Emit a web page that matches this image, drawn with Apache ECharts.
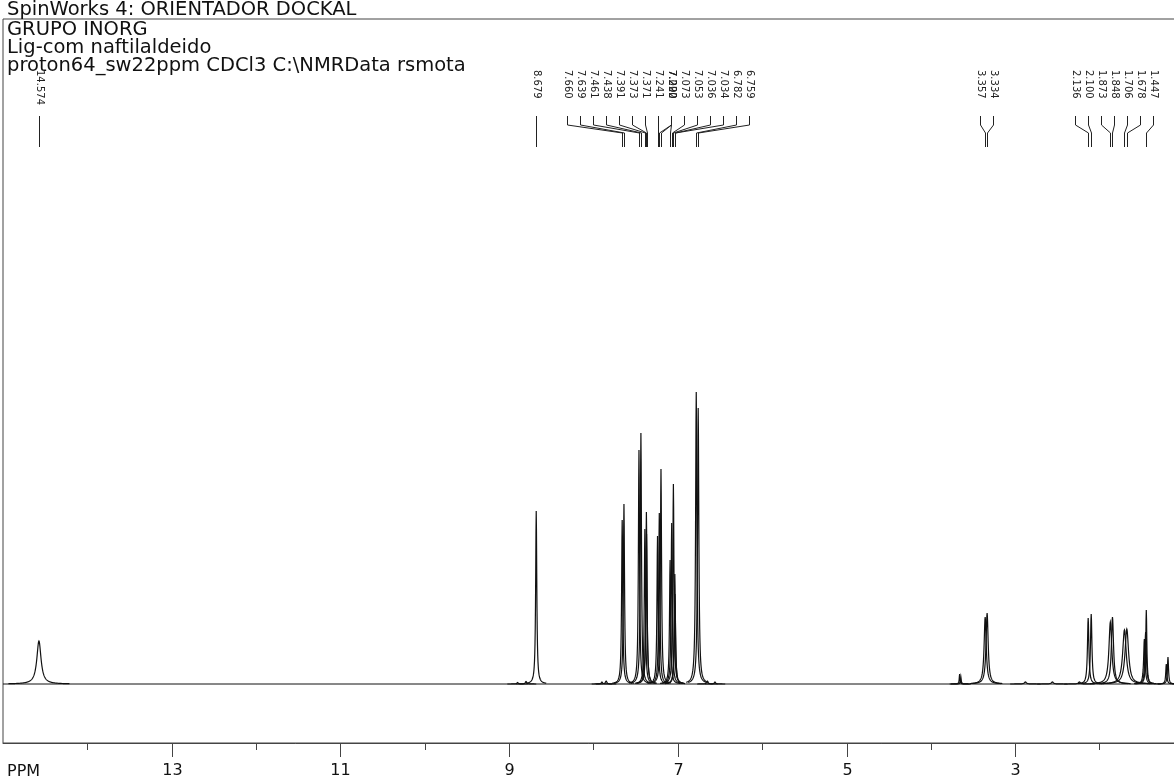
<!DOCTYPE html>
<html>
<head>
<meta charset="utf-8">
<title>SpinWorks 4: ORIENTADOR DOCKAL</title>
<script src="https://cdn.jsdelivr.net/npm/echarts@6/dist/echarts.min.js"></script>
<style>
  html, body { margin: 0; padding: 0; background: #fff; overflow: hidden; }
  #chart { width: 1174px; height: 780px; }
</style>
</head>
<body>
<div id="chart"></div>
<script>
// header lines printed by SpinWorks
const titleLines = [
  "SpinWorks 4: ORIENTADOR DOCKAL",
  "GRUPO INORG",
  "Lig-com naftilaldeido",
  "proton64_sw22ppm CDCl3 C:\\NMRData rsmota"
];

// peaks: shift (ppm), height above baseline, line width (ppm)
const peakShifts = [14.574, 8.900, 8.800, 8.679, 7.900, 7.850, 7.660, 7.639, 7.461, 7.438,
  7.391, 7.373, 7.371, 7.241, 7.220, 7.200, 7.092, 7.073, 7.053, 7.036, 7.034,
  6.782, 6.759, 6.650, 6.560, 3.660, 3.645, 3.357, 3.334, 2.880, 2.560, 2.240,
  2.136, 2.100, 1.873, 1.848, 1.706, 1.678, 1.470, 1.455, 1.447, 1.210, 1.190];
const peakHeights = [43, 1.5, 2.5, 173, 2, 3, 164, 180, 234, 251,
  155, 172, 150, 148, 171, 215, 124, 161, 200, 110, 90,
  292, 276, 3, 2, 10, 7, 67, 71, 2, 2, 2,
  66, 70, 62, 67, 54, 55, 45, 52, 74, 20, 27];
const peakWidths = [0.06, 0.02, 0.02, 0.016, 0.02, 0.02, 0.016, 0.016, 0.016, 0.016,
  0.016, 0.016, 0.016, 0.016, 0.016, 0.016, 0.016, 0.016, 0.016, 0.016, 0.016,
  0.018, 0.018, 0.02, 0.02, 0.01, 0.01, 0.03, 0.03, 0.03, 0.03, 0.03,
  0.02, 0.02, 0.04, 0.03, 0.05, 0.05, 0.02, 0.02, 0.015, 0.015, 0.015];

// picked peaks printed above the spectrum (descending ppm)
const labelShifts = [14.574, 8.679, 7.660, 7.639, 7.461, 7.438, 7.391, 7.373, 7.371,
  7.241, 7.220, 7.200, 7.092, 7.073, 7.053, 7.036, 7.034, 6.782, 6.759,
  3.357, 3.334, 2.136, 2.100, 1.873, 1.848, 1.706, 1.678, 1.447];
// labels that SpinWorks printed on top of the previous one
const labelStacked = [0, 0, 0, 0, 0, 0, 0, 0, 0,
  0, 0, 1, 1, 0, 0, 0, 0, 0, 0,
  0, 0, 0, 0, 0, 0, 0, 0, 0];

const ppmRange = [1, 15];
const intensityRange = [-59, 665];
const majorTicks = [13, 11, 9, 7, 5, 3];
const minorTicks = [14, 12, 10, 8, 6, 4, 2];

const FONT = "DejaVu Sans";
const GAP = 13;

function layoutLabels(api) {
  const ideal = labelShifts.map(s => api.coord([s, 0])[0]);
  const slots = [];
  ideal.forEach((x, i) => {
    if (labelStacked[i] && slots.length) {
      const s = slots[slots.length - 1];
      s.members.push(i);
      s.sum += x;
    } else {
      slots.push({ members: [i], sum: x });
    }
  });
  slots.forEach(s => { s.ideal = s.sum / s.members.length; });
  const clusters = slots.map(s => ({ slots: [s], sum: s.ideal }));
  const place = c => { c.start = c.sum / c.slots.length - (c.slots.length - 1) * GAP / 2; };
  clusters.forEach(place);
  let merged = true;
  while (merged) {
    merged = false;
    for (let i = 1; i < clusters.length; i++) {
      const a = clusters[i - 1], b = clusters[i];
      if (b.start < a.start + a.slots.length * GAP) {
        a.slots = a.slots.concat(b.slots);
        a.sum += b.sum;
        place(a);
        clusters.splice(i, 1);
        merged = true;
        break;
      }
    }
  }
  const pos = [];
  clusters.forEach(c => c.slots.forEach((s, k) => s.members.forEach(m => { pos[m] = c.start + k * GAP; })));
  return pos;
}

function renderPeak(params, api) {
  const base = api.coord([api.value(0), 0]);
  const top = api.coord([api.value(0), api.value(1)]);
  const ppmPx = Math.abs(api.size([1, 0])[0]);
  const hw = api.value(2) * ppmPx / 2;
  const span = Math.ceil(Math.max(10, hw * 12) * 4) / 4;
  const amp = base[1] - top[1];
  const pts = [];
  for (let dx = -span; dx <= span + 1e-6; dx += 0.25) {
    pts.push([base[0] + dx, base[1] - amp / (1 + (dx / hw) * (dx / hw))]);
  }
  return {
    type: "polyline",
    shape: { points: pts },
    style: { stroke: "#111", lineWidth: 1.2, fill: null }
  };
}

function renderLabel(params, api) {
  const i = params.dataIndex;
  const xs = layoutLabels(api);
  const peak = api.coord([labelShifts[i], 0]);
  const lx = Math.round(xs[i]) + 0.5;
  const px = Math.round(peak[0]) + 0.5;
  return {
    type: "group",
    children: [
      {
        type: "text",
        x: lx,
        y: 70,
        rotation: -Math.PI / 2,
        style: {
          text: labelShifts[i].toFixed(3),
          fontSize: 10,
          fontFamily: FONT,
          fill: "#222",
          align: "left",
          verticalAlign: "middle"
        }
      },
      {
        type: "polyline",
        shape: { points: [[lx, 116], [lx, 125], [px, 133], [px, 147]] },
        style: { stroke: "#222", lineWidth: 1, fill: null }
      }
    ]
  };
}

// numbered ppm values: long tick plus the number under it
function renderMajorTick(params, api) {
  const v = api.value(0);
  const p = api.coord([v, intensityRange[0]]);
  const x = Math.round(p[0]) + 0.5;
  return {
    type: "group",
    children: [
      {
        type: "polyline",
        shape: { points: [[x, p[1]], [x, p[1] + 14]] },
        style: { stroke: "#444", lineWidth: 1, fill: null }
      },
      {
        type: "text",
        x: x,
        y: p[1] + 28,
        style: {
          text: String(v), fontSize: 16, fontFamily: FONT, fill: "#111",
          align: "center", verticalAlign: "middle"
        }
      }
    ]
  };
}

const chart = echarts.init(document.getElementById("chart"));
chart.setOption({
  animation: false,
  backgroundColor: "#fff",
  grid: {
    left: 3, right: -10, top: 19, bottom: 37,
    show: true, borderColor: "#444", borderWidth: 1,
    outerBoundsMode: "none"
  },
  xAxis: {
    type: "value", min: ppmRange[0], max: ppmRange[1], inverse: true, position: "bottom",
    axisLine: { show: true, onZero: false, lineStyle: { color: "#444", width: 1 } },
    axisTick: { show: true, length: 7, customValues: minorTicks, lineStyle: { color: "#444" } },
    axisLabel: { show: false },
    splitLine: { show: false }
  },
  yAxis: { type: "value", min: intensityRange[0], max: intensityRange[1], show: false },
  graphic: [
    ...titleLines.map((t, i) => ({
      type: "text",
      x: 7,
      y: [10, 30, 48, 66][i],
      style: { text: t, fontSize: 19.5, fontFamily: FONT, fill: "#111", verticalAlign: "middle" }
    })),
    {
      type: "text", x: 7, y: 772,
      style: { text: "PPM", fontSize: 16, fontFamily: FONT, fill: "#111", verticalAlign: "middle" }
    }
  ],
  series: [
    {
      type: "line",
      data: ppmRange.map(v => [v, 0]),
      symbol: "none",
      lineStyle: { color: "#111", width: 1 },
      silent: true
    },
    {
      type: "custom",
      renderItem: renderPeak,
      data: peakShifts.map((s, i) => [s, peakHeights[i], peakWidths[i]]),
      clip: false,
      silent: true
    },
    {
      type: "custom",
      renderItem: renderLabel,
      data: labelShifts.map((s, i) => [s, 0]),
      clip: false,
      silent: true
    },
    {
      type: "custom",
      renderItem: renderMajorTick,
      data: majorTicks.map(v => [v, 0]),
      clip: false,
      z: 10,
      silent: true
    }
  ]
});
</script>
</body>
</html>
